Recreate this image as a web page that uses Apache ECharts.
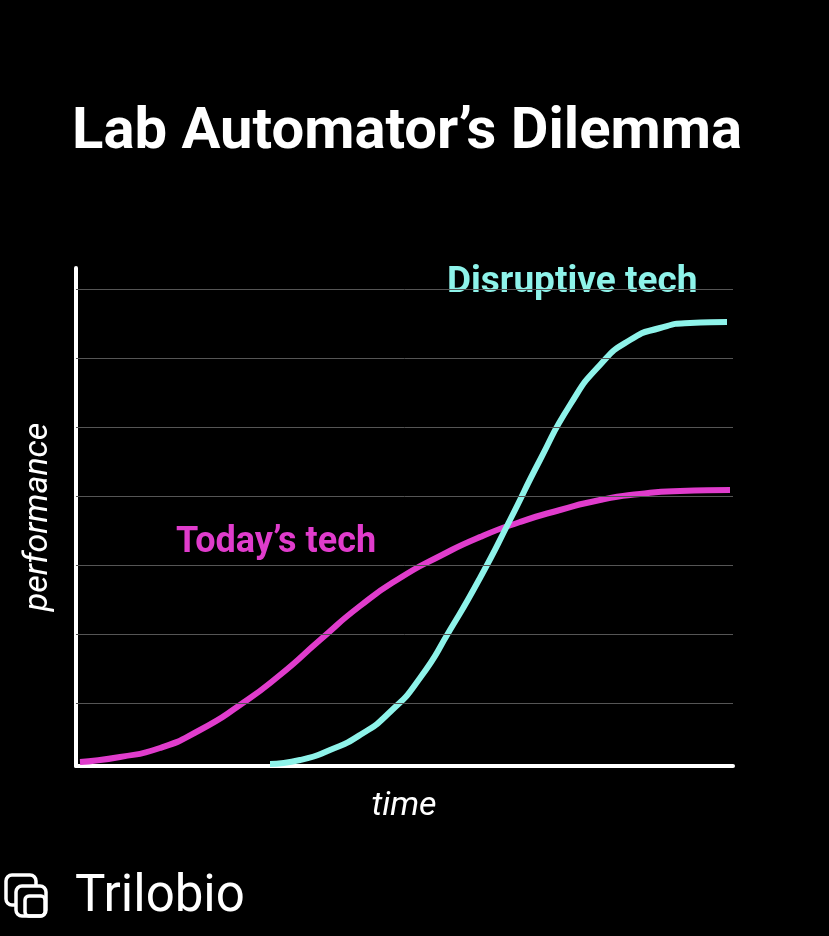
<!DOCTYPE html>
<html><head><meta charset="utf-8">
<script src="https://cdn.jsdelivr.net/npm/echarts@6/dist/echarts.min.js"></script>
<style>html,body{margin:0;background:#000}#c{width:829px;height:936px}</style>
</head><body><div id="c"></div>
<script>
const todayX = [4,44,84,124,164,204,244,284,324,364,404,444,484,524,564,604,654];
const todayY = [4,9,18,36,61,91,126,160,188,210,229,244,256,266,272,275,276];
const disruptX = [194,224,254,284,314,344,374,404,434,464,494,524,554,584,614,651];
const disruptY = [2,6,16,31,54,88,136,188,246,306,361,401,426,438,443,444];
const gridValues = [63,132,201,270,339,408,477];
const pts = (xs, ys) => xs.map((x,i)=>[x, ys[i]]);
const chart = echarts.init(document.getElementById('c'));
chart.setOption({
  backgroundColor:'#000',
  animation:false,
  grid:{left:76,right:96,top:268,bottom:170},
  xAxis:{type:'value',min:0,max:657,axisLine:{show:true,onZero:false,lineStyle:{color:'#fff',width:4}},axisTick:{show:false},axisLabel:{show:false},splitLine:{show:false}},
  yAxis:{type:'value',min:0,max:498,axisLine:{show:true,lineStyle:{color:'#fff',width:4}},axisTick:{show:false},axisLabel:{show:false},splitLine:{show:false}},
  series:[
    {type:'line',data:pts(todayX,todayY),smooth:0.6,showSymbol:false,lineStyle:{color:'#e03ccc',width:6},
     markLine:{silent:true,symbol:'none',label:{show:false},lineStyle:{color:'#555',width:1,type:'solid'},data:gridValues.map(v=>({yAxis:v}))},z:3},
    {type:'line',data:pts(disruptX,disruptY),smooth:0.6,showSymbol:false,lineStyle:{color:'#8ef3ea',width:6},z:4}
  ],
  graphic:[
    {type:'text',left:72,top:104,style:{text:'Lab Automator’s Dilemma',fill:'#fff',font:'bold 58px Roboto'}},
    {type:'text',left:447,top:264,style:{text:'Disruptive tech',fill:'#8ef3ea',font:'bold 37px Roboto'}},
    {type:'text',left:176,top:525,style:{text:'Today’s tech',fill:'#e03ccc',font:'bold 36px Roboto'}},
    {type:'text',x:404,y:806,style:{text:'time',fill:'#fff',font:'italic 34px Roboto',align:'center',verticalAlign:'middle'}},
    {type:'text',x:38,y:517,rotation:Math.PI/2,style:{text:'performance',fill:'#fff',font:'italic 34px Roboto',align:'center',verticalAlign:'middle'}},
    {type:'text',left:75,top:873,style:{text:'Trilobio',fill:'#fff',font:'51px Roboto'}},
    {type:'rect',shape:{x:6,y:875,width:30,height:30,r:6},style:{fill:'none',stroke:'#fff',lineWidth:3.5}},
    {type:'rect',shape:{x:16,y:886,width:30,height:30,r:6},style:{fill:'#000',stroke:'#fff',lineWidth:3.5}},
    {type:'rect',shape:{x:25,y:896,width:20,height:20,r:4},style:{fill:'none',stroke:'#fff',lineWidth:3.5}}
  ]
});
</script></body></html>
